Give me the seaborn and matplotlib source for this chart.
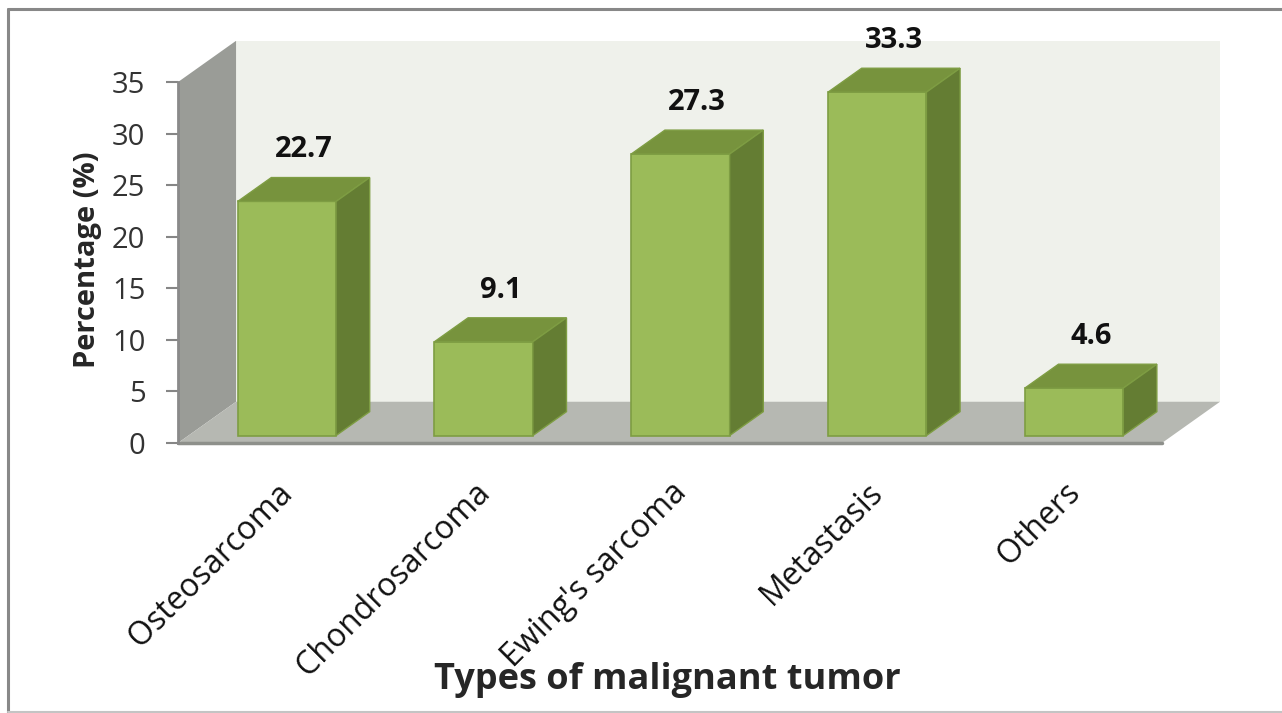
import matplotlib
matplotlib.use("Agg")
import matplotlib.pyplot as plt
from matplotlib.patches import Polygon
from matplotlib.lines import Line2D
import seaborn as sns
import pandas as pd

# data
categories = ["Osteosarcoma", "Chondrosarcoma", "Ewing's sarcoma", "Metastasis", "Others"]
percentages = [22.7, 9.1, 27.3, 33.3, 4.6]
y_ticks = [0, 5, 10, 15, 20, 25, 30, 35]

# colours of the excel-like 3d look
FRONT = "#9bbb59"
TOP = "#77933d"
SIDE = "#647d33"
EDGE = "#7e9d43"
WALL_BACK = "#eff1eb"
WALL_LEFT = "#9a9c97"
FLOOR = "#b6b8b2"

DX, DY = 0.295, 4.0   # depth of the box, in data units
F0, BD = 0.18, 0.58   # bar front offset / bar depth, as share of box depth

sns.set_style("white")
plt.rcParams["font.family"] = ["Open Sans", "DejaVu Sans"]

df = pd.DataFrame({"type": categories, "pct": percentages})

W, H = 1282, 713
fig = plt.figure(figsize=(W / 100, H / 100), dpi=100)
ax = fig.add_axes([178 / W, 270 / H, 1042 / W, 402.2 / H])
ax.patch.set_alpha(0)

n = len(categories)
x0, x1 = -0.5, n - 0.5
ymax = y_ticks[-1]

# walls and floor
ax.add_patch(Polygon([(x0 + DX, DY), (x1 + DX, DY), (x1 + DX, ymax + DY), (x0 + DX, ymax + DY)],
                     fc=WALL_BACK, ec="none", zorder=0))
ax.add_patch(Polygon([(x0, 0), (x0 + DX, DY), (x0 + DX, ymax + DY), (x0, ymax)],
                     fc=WALL_LEFT, ec="none", zorder=0))
ax.add_patch(Polygon([(x0, 0), (x1, 0), (x1 + DX, DY), (x0 + DX, DY)],
                     fc=FLOOR, ec="none", zorder=0.5, clip_on=False))
ax.plot([x0, x1], [0, 0], color="#8e908b", lw=2.5, clip_on=False, zorder=0.6)

sns.barplot(data=df, x="type", y="pct", color=FRONT, width=0.5, saturation=1,
            edgecolor=EDGE, linewidth=1.2, ax=ax, zorder=2)

bdx, bdy = BD * DX, BD * DY
for bar, val in zip(ax.containers[0], percentages):
    bar.set_x(bar.get_x() + F0 * DX)
    bar.set_y(F0 * DY)
    bx0 = bar.get_x()
    bx1 = bx0 + bar.get_width()
    yb = bar.get_y()
    yt = yb + bar.get_height()
    ax.add_patch(Polygon([(bx0, yt), (bx1, yt), (bx1 + bdx, yt + bdy), (bx0 + bdx, yt + bdy)],
                         fc=TOP, ec=EDGE, lw=1.0, zorder=2.1))
    ax.add_patch(Polygon([(bx1, yb), (bx1 + bdx, yb + bdy), (bx1 + bdx, yt + bdy), (bx1, yt)],
                         fc=SIDE, ec=EDGE, lw=1.0, zorder=2.1))
    ax.text((bx0 + bx1) / 2 + bdx / 2, yt + 5.0, f"{val}", ha="center", va="center",
            fontsize=21, fontweight="bold", color="#111111", zorder=3)

ax.set_xlim(x0, x1 + DX)
ax.set_ylim(0, ymax + DY)

# axes styling
for side in ["top", "right", "bottom"]:
    ax.spines[side].set_visible(False)
ax.spines["left"].set_bounds(0, ymax)
ax.spines["left"].set_color("#8a8a8a")
ax.spines["left"].set_linewidth(2)
ax.spines["left"].set_zorder(1)

ax.set_yticks(y_ticks)
ax.tick_params(axis="y", direction="out", length=8.5, width=1.5, color="#868686",
               labelsize=21, labelcolor="#333333", pad=15, left=True)
ax.tick_params(axis="x", length=0, pad=24)
ax.set_xticks(range(n))
ax.set_xticklabels(categories, rotation=45, ha="right", va="top",
                   rotation_mode="anchor", fontsize=23, color="#111111")

ax.set_xlabel("Types of malignant tumor", fontsize=26, fontweight="bold", va="center")
ax.xaxis.set_label_coords((667 - 178) / 1042, -(680 - 443) / 402.2)
ax.set_ylabel("Percentage (%)", fontsize=21, fontweight="bold", va="center")
ax.yaxis.set_label_coords((87.5 - 178) / 1042, (443 - 260) / 402.2)

# outer frame (left/top dark, bottom light, right cropped off)
fig.add_artist(Line2D([7.5 / W, 7.5 / W], [0, 1 - 8.5 / H], color="#888888", lw=2.2))
fig.add_artist(Line2D([7.5 / W, 1], [1 - 8.5 / H, 1 - 8.5 / H], color="#888888", lw=2.2))
fig.add_artist(Line2D([7.5 / W, 1], [1.5 / H, 1.5 / H], color="#c4c4c4", lw=1.5))

fig.savefig("out.png", dpi=100)
